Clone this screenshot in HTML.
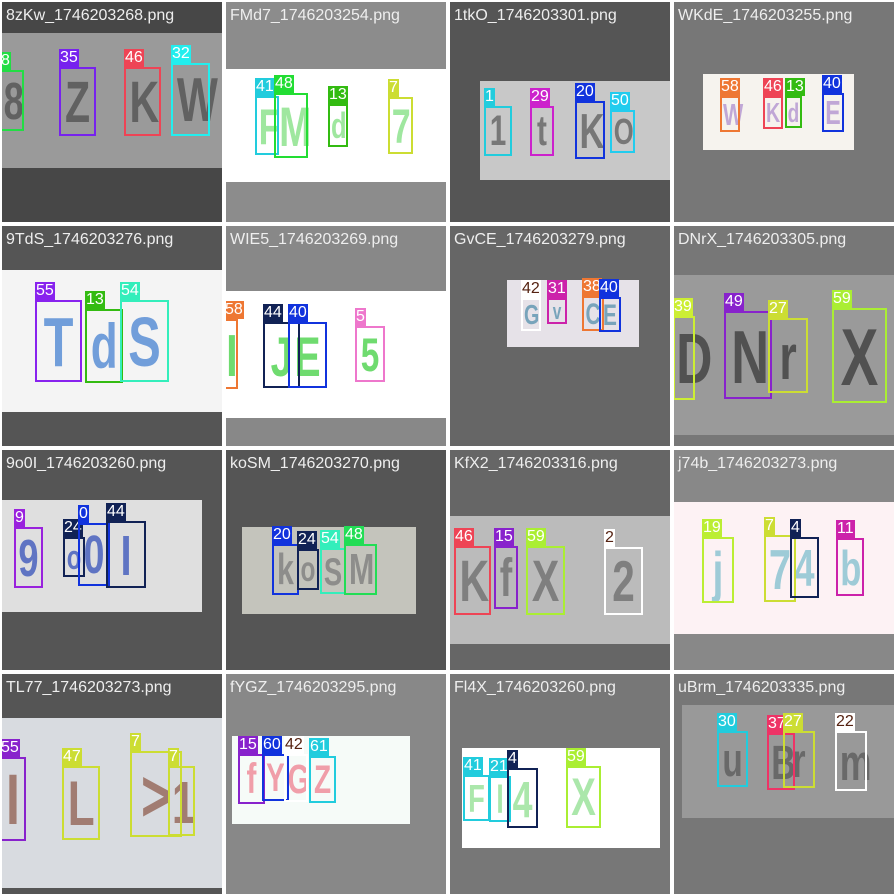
<!DOCTYPE html>
<html><head><meta charset="utf-8"><style>
body{margin:0;width:896px;height:896px;background:#fff;position:relative;overflow:hidden;font-family:"Liberation Sans",sans-serif}
.cell{position:absolute;width:220px;height:220px;overflow:hidden}
.title{position:absolute;left:4px;top:5px;font-size:16px;color:#eee;white-space:nowrap}
.img{position:absolute}
.ch{position:absolute;font-weight:bold;text-align:center;line-height:1;transform:scaleX(0.7);transform-origin:center top}
.box{position:absolute;border:2px solid;box-sizing:border-box}
.lab{position:absolute;font-size:16px;line-height:18px;height:18px;padding:0 1px;color:#fff;white-space:nowrap}
</style></head><body>
<script>
const titles=["8zKw_1746203268.png","FMd7_1746203254.png","1tkO_1746203301.png","WKdE_1746203255.png","9TdS_1746203276.png","WIE5_1746203269.png","GvCE_1746203279.png","DNrX_1746203305.png","9o0I_1746203260.png","koSM_1746203270.png","KfX2_1746203316.png","j74b_1746203273.png","TL77_1746203273.png","fYGZ_1746203295.png","Fl4X_1746203260.png","uBrm_1746203335.png"];
const cellLetters=["8ZKW","FMd7","1tKO","WKdE","TdS","IJE5","GvCE","DNrX","9o0I","koSM","KfX2","j74b","IL>1","fYGZ","Fl4X","uBrm"];
const cellBg=["#474747","#8c8c8c","#555","#777","#555","#888","#666","#777","#555","#555","#666","#888","#555","#888","#777","#777"];
const imgs=[[2,33,220,135,"#9a9a9a"],[226,69,220,113,"#fff"],[480,81,190,99,"#c8c8c8"],[703,74,151,76,"#f6f3ee"],
[2,270,220,142,"#f4f4f4"],[226,291,220,127,"#fff"],[507,280,132,67,"#e6e2e8"],[674,275,220,160,"#9a9a9a"],
[2,500,200,112,"#dfdfdf"],[242,527,174,87,"#c4c4bc"],[450,516,220,128,"#bbb"],[674,502,220,132,"#fdf2f4"],
[2,718,220,170,"#d8dbe0"],[232,736,178,88,"#f6fbf8"],[462,748,198,100,"#fff"],[682,705,212,113,"#999"]];
const letterColor=["#4a4a4a","#7d7","#555","#a8c","#3a7ad0","#3c3","#4a8aa8","#333","#2a48b8","#777","#666","#7bc","#8a5544","#e78","#8d8","#555"];
const boxes=[
[[8,0,70,24,61,"#22dd44"],[35,59,67,37,69,"#7722ee"],[46,124,67,37,69,"#ee4455"],[32,171,63,39,73,"#22eeee"]],
[[41,255,96,24,59,"#22ccdd"],[48,274,93,34,65,"#22dd33"],[13,328,104,20,43,"#33bb11"],[7,388,97,25,57,"#ccdd33"]],
[[1,484,106,28,50,"#22ccdd"],[29,530,106,24,50,"#cc22cc"],[20,575,101,30,58,"#1133dd"],[50,610,110,25,43,"#22ccee"]],
[[58,720,96,20,36,"#ee7733"],[46,763,96,20,33,"#ee4455"],[13,785,96,17,32,"#33bb11"],[40,822,93,22,39,"#1133dd"]],
[[55,35,300,47,82,"#8822ee"],[13,85,309,38,74,"#33bb11"],[54,120,300,49,82,"#33eebb"]],
[[58,224,319,14,70,"#ee7733"],[44,263,322,37,66,"#112255"],[40,288,322,39,66,"#1133dd"],[5,355,326,30,56,"#ee77cc"]],
[[42,521,298,20,33,"#ffffff"],[31,547,298,20,26,"#cc22aa"],[38,582,296,22,35,"#ee7733"],[40,599,297,22,35,"#1133dd"]],
[[39,673,316,22,84,"#ccee33"],[49,724,311,48,88,"#8822cc"],[27,768,318,40,75,"#ccdd33"],[59,832,308,55,95,"#aaee33"]],
[[9,14,527,29,61,"#9922dd"],[24,63,537,22,40,"#112255"],[0,78,523,32,63,"#1133dd"],[44,106,521,40,67,"#112255"]],
[[20,272,544,27,51,"#1133dd"],[24,297,549,22,41,"#112255"],[54,320,548,26,46,"#33eebb"],[48,344,544,33,51,"#22dd55"]],
[[46,454,546,37,69,"#ee4455"],[15,494,546,24,63,"#8822cc"],[59,526,546,39,69,"#aaee33"],[2,604,547,39,68,"#ffffff"]],
[[19,702,537,32,66,"#bbee33"],[7,764,535,32,67,"#ccdd33"],[4,790,537,29,61,"#112255"],[11,836,538,28,58,"#cc22aa"]],
[[55,0,757,26,84,"#8822cc"],[47,62,766,38,74,"#ccdd33"],[7,130,751,52,86,"#ccdd33"],[7,168,766,27,70,"#ccdd33"]],
[[15,238,754,27,50,"#8822cc"],[60,262,754,27,47,"#1133dd"],[42,284,754,24,48,"#ffffff"],[61,309,756,27,47,"#22ccdd"]],
[[41,463,775,27,46,"#22ccdd"],[21,489,776,22,46,"#22ccdd"],[4,507,768,31,60,"#112255"],[59,566,766,35,62,"#aaee33"]],
[[30,717,731,31,56,"#22ccdd"],[37,767,733,28,57,"#ee3366"],[27,783,731,32,57,"#ccdd33"],[22,835,731,32,60,"#ffffff"]]];
for(let i=0;i<16;i++){
  const cx=2+224*(i%4), cy=2+224*Math.floor(i/4);
  const c=document.createElement('div');c.className='cell';
  
  
  c.style.left=cx+'px';c.style.top=cy+'px';c.style.background=cellBg[i];
  const im=imgs[i];
  const d=document.createElement('div');d.className='img';
  
  
  d.style.cssText=`left:${im[0]-cx}px;top:${im[1]-cy}px;width:${im[2]}px;height:${im[3]}px;background:${im[4]}`;
  c.appendChild(d);
  const letters=cellLetters[i];
  boxes[i].forEach((b,k)=>{
    const ch=document.createElement('div');ch.className='ch';
    
    
    ch.textContent=letters[k]||'';
    ch.style.cssText+=`;left:${b[1]-cx}px;top:${b[2]-cy+b[4]*0.1}px;width:${b[3]}px;font-size:${b[4]*0.85}px;color:${letterColor[i]};opacity:.7`;
    c.appendChild(ch);
  });
  boxes[i].forEach(b=>{
    const bx=document.createElement('div');bx.className='box';
    
    
    bx.style.cssText=`left:${b[1]-cx}px;top:${b[2]-cy}px;width:${b[3]}px;height:${b[4]}px;border-color:${b[5]}`;
    c.appendChild(bx);
    const lb=document.createElement('div');lb.className='lab';
    
    
    lb.textContent=b[0];
    const white=b[5]=='#ffffff';
    lb.style.cssText=`left:${b[1]-cx}px;top:${b[2]-cy-18}px;background:${b[5]};color:${white?'#521':'#fff'}`;
    c.appendChild(lb);
  });
  const t=document.createElement('div');t.className='title';
  
  
  t.textContent=titles[i];
  c.appendChild(t);
  document.body.appendChild(c);
}
</script>
</body></html>
